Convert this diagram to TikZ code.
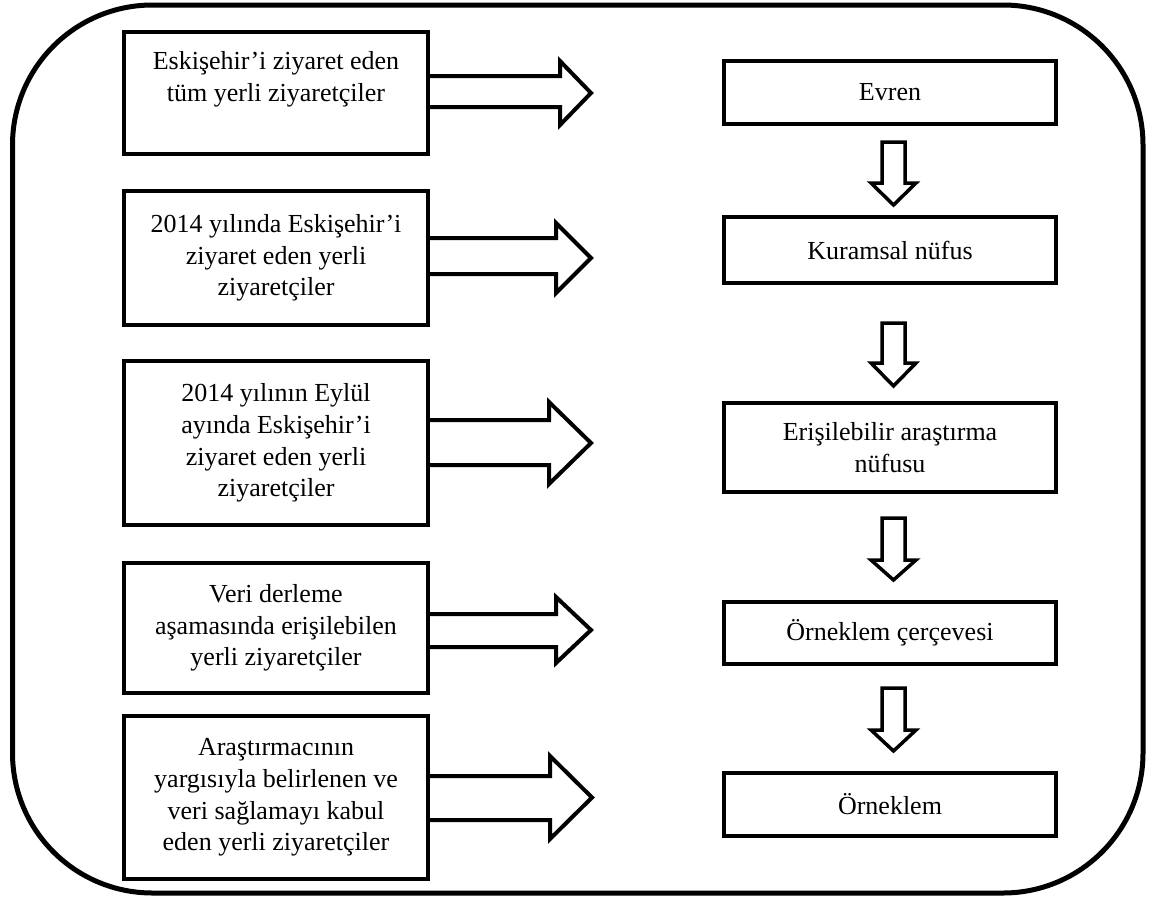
\documentclass[tikz,border=0pt]{standalone}
\usepackage{fontspec}
\setmainfont{Liberation Serif}
\newcommand\rarr[7]{% #1 node, #2 shaft top, #3 shaft bottom, #4 head top, #5 head bottom, #6 base x, #7 tip x
  \draw[rarrow] (#1.east |- 0,#2) -- (#6,#2) -- (#6,#4) -- (#7,{(#4+#5)/2}) -- (#6,#5) -- (#6,#3) -- (#1.east |- 0,#3);}
\newcommand\darr[3]{% #1 shaft top, #2 head base, #3 tip
  \draw[darrow] (882,#1) -- (905,#1) -- (905,#2) -- (916,#2) -- (893.5,#3) -- (871,#2) -- (882,#2) -- cycle;}
\begin{document}
\begin{tikzpicture}[x=1pt,y=-1pt,
  txt/.style={align=center, inner sep=0pt, font=\fontsize{26}{31.7}\selectfont},
  lbox/.style={draw, line width=4pt, txt, minimum width=304pt},
  rbox/.style={draw, line width=4pt, txt, minimum width=332pt},
  rarrow/.style={draw, line width=4pt, line join=miter},
  darrow/.style={draw, line width=3.5pt, line join=miter}]
\useasboundingbox (0,0) rectangle (1151,900);
% outer frame
\draw[line width=5pt, rounded corners=140pt] (12.5,5) rectangle (1143,893);
% left boxes
\node[lbox, minimum height=122pt] (b1) at (276,93) {};
\node[txt] (t1) at (276,79) {Eskişehir’i ziyaret eden\\tüm yerli ziyaretçiler};
\node[lbox, minimum height=134pt] (b2) at (276,258) {2014 yılında Eskişehir’i\\ziyaret eden yerli\\ziyaretçiler};
\node[lbox, minimum height=164pt] (b3) at (276,443) {2014 yılının Eylül\\ayında Eskişehir’i\\ziyaret eden yerli\\ziyaretçiler};
\node[lbox, minimum height=130pt] (b4) at (276,628) {Veri derleme\\aşamasında erişilebilen\\yerli ziyaretçiler};
\node[lbox, minimum height=163pt] (b5) at (276,797.5) {Araştırmacının\\yargısıyla belirlenen ve\\veri sağlamayı kabul\\eden yerli ziyaretçiler};
% right boxes
\node[rbox, minimum height=63pt] (r1) at (890,92.5) {Evren};
\node[rbox, minimum height=66pt] (r2) at (890,250) {Kuramsal nüfus};
\node[rbox, minimum height=89pt] (r3) at (890,447.5) {Erişilebilir araştırma\\nüfusu};
\node[rbox, minimum height=62pt] (r4) at (890,633) {Örneklem çerçevesi};
\node[rbox, minimum height=63pt] (r5) at (890,804.5) {Örneklem};
% right block arrows
\rarr{b1}{76}{107}{61}{125}{560}{591}
\rarr{b2}{238}{274}{223}{293}{556}{591}
\rarr{b3}{420}{465}{402}{484}{549}{591}
\rarr{b4}{614}{647}{597}{663}{556}{591}
\rarr{b5}{776}{820}{756}{839}{550}{592}
% down block arrows
\darr{142}{183}{205}
\darr{323}{363}{386}
\darr{518}{560}{580}
\darr{688}{730}{751}
\end{tikzpicture}
\end{document}
